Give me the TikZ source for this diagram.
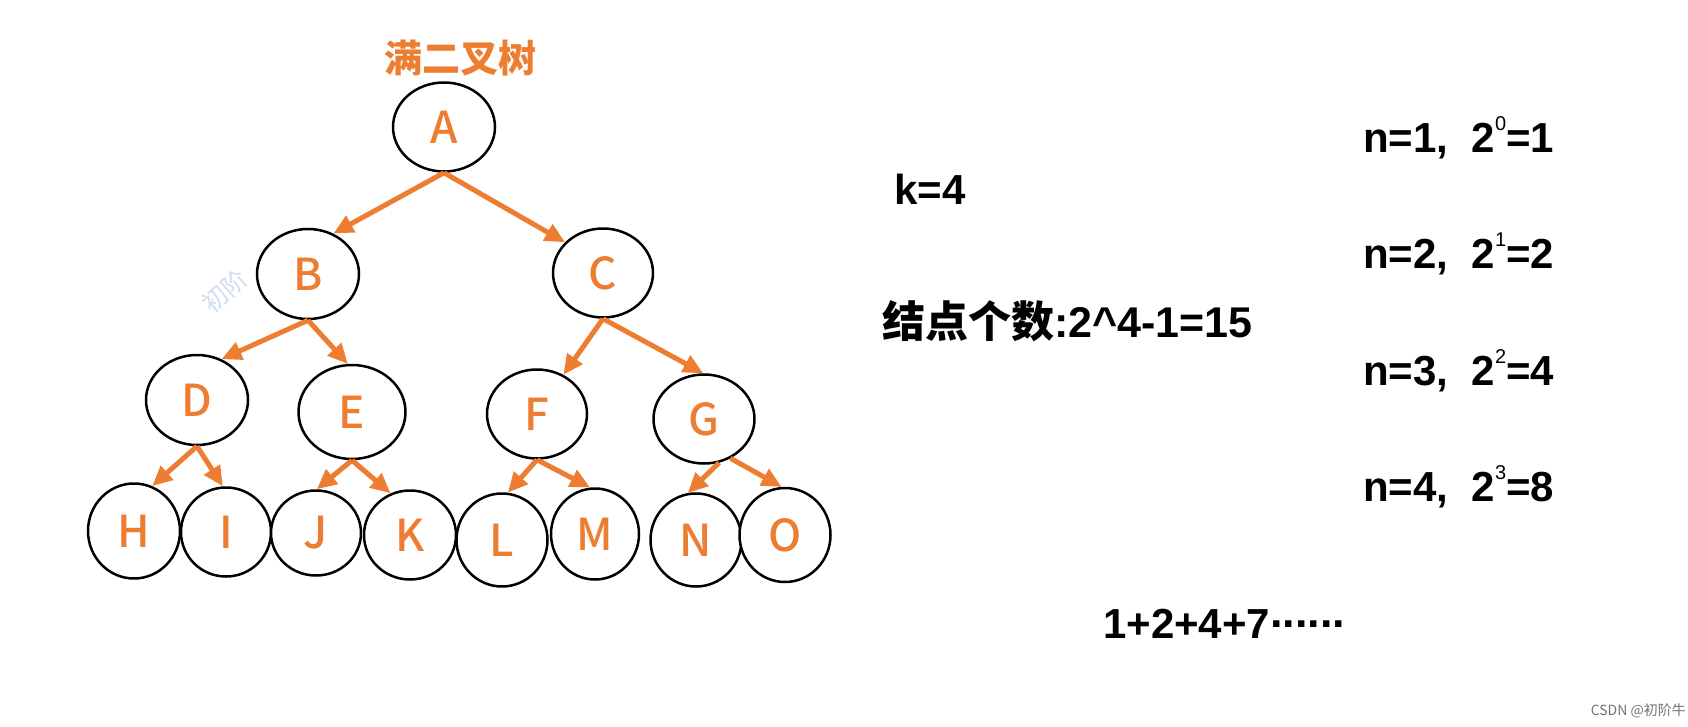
\documentclass[tikz,border=0pt]{standalone}
\usepackage{fontspec}
\setmainfont{Liberation Sans}
\newfontfamily\cjk{Noto Sans CJK SC}
\newfontfamily\cjkm{Noto Sans CJK SC Medium}
\usetikzlibrary{shapes.geometric,arrows.meta}
\definecolor{org}{RGB}{237,125,49}
\definecolor{wm}{RGB}{205,222,242}
\tikzset{
  tn/.style={ellipse,draw=black,line width=2.5pt,fill=white,inner sep=0pt,
    text=org,font={\cjkm\fontsize{44}{44}\selectfont}},
  arr/.style={draw=org,line width=5pt,-{Triangle[length=20pt,width=18pt]}},
  rt/.style={anchor=base west,inner sep=0pt,font={\bfseries\fontsize{42}{42}\selectfont}}
}
\newcommand{\supr}[1]{\raisebox{22pt}{\fontsize{20}{20}\selectfont\mdseries #1}}
\begin{document}
\begin{tikzpicture}[x=1pt,y=-1pt]
\useasboundingbox (0,0) rectangle (1688,727);
% watermark
\node[rotate=42,text=wm,inner sep=0pt,font={\cjk\fontsize{25}{25}\selectfont}] (wmk) at (225,291) {初阶};
% title
\node[text=org,font={\cjk\bfseries\fontsize{38}{38}\selectfont},inner sep=0pt] (title) at (460,58) {满二叉树};
% nodes
\node[tn,minimum width=102pt,minimum height=89pt] (A) at (444,127) {A};
\node[tn,minimum width=102pt,minimum height=90pt] (B) at (308,274) {B};
\node[tn,minimum width=100pt,minimum height=89pt] (C) at (603,273) {C};
\node[tn,minimum width=102pt,minimum height=90pt] (D) at (197,400) {D};
\node[tn,minimum width=107pt,minimum height=94pt] (E) at (352,412) {E};
\node[tn,minimum width=100pt,minimum height=89pt] (F) at (537,414) {F};
\node[tn,minimum width=101pt,minimum height=89pt] (G) at (704,419) {G};
\node[tn,minimum width=92pt,minimum height=95pt] (H) at (134,531) {H};
\node[tn,minimum width=90pt,minimum height=89pt] (I) at (226,532) {I};
\node[tn,minimum width=90pt,minimum height=85pt] (J) at (316,533) {J};
\node[tn,minimum width=92pt,minimum height=89pt] (K) at (410,535) {K};
\node[tn,minimum width=91pt,minimum height=93pt] (L) at (502,540) {L};
\node[tn,minimum width=88pt,minimum height=91pt] (M) at (595,534) {M};
\node[tn,minimum width=91pt,minimum height=93pt] (N) at (696,540) {N};
\node[tn,minimum width=91pt,minimum height=94pt] (O) at (785,535) {O};
% arrows
\draw[arr] (A.south) -- (B.58);
\draw[arr] (A.south) -- (C.141);
\draw[arr] (B.south) -- (D.59);
\draw[arr] (B.south) -- (E.95);
\draw[arr] (C.south) -- (F.56);
\draw[arr] (C.south) -- (G.91);
\draw[arr] (D.south) -- (H.68);
\draw[arr] (D.south) -- (I.94);
\draw[arr] (E.south) -- (J.89);
\draw[arr] (E.south) -- (K.115);
\draw[arr] (F.south) -- (L.83);
\draw[arr] (F.south) -- (M.96);
\draw[arr] (G.-71) -- (N.100);
\draw[arr] (G.-56) -- (O.94);
% right texts
\node[rt] (k) at (894,205) {k=4};
\node[rt,font={\bfseries\fontsize{43}{43}\selectfont}] (cnt) at (882,337) {{\cjk\bfseries 结点个数}:2\^{}4-1=15};
\node[rt] (n1) at (1363,153) {n=1,\ \ 2\supr{0}=1};
\node[rt] (n2) at (1363,269) {n=2,\ \ 2\supr{1}=2};
\node[rt] (n3) at (1363,385) {n=3,\ \ 2\supr{2}=4};
\node[rt] (n4) at (1363,501) {n=4,\ \ 2\supr{3}=8};
\node[rt] (sum) at (1103,638) {1+2+4+7\raisebox{11pt}{\fontsize{45}{45}\selectfont......}};
% footer
\node[anchor=base east,inner sep=0pt,text=black!55,font={\cjk\fontsize{14}{14}\selectfont}] (csdn) at (1686,715) {CSDN @初阶牛};
\end{tikzpicture}
\end{document}
